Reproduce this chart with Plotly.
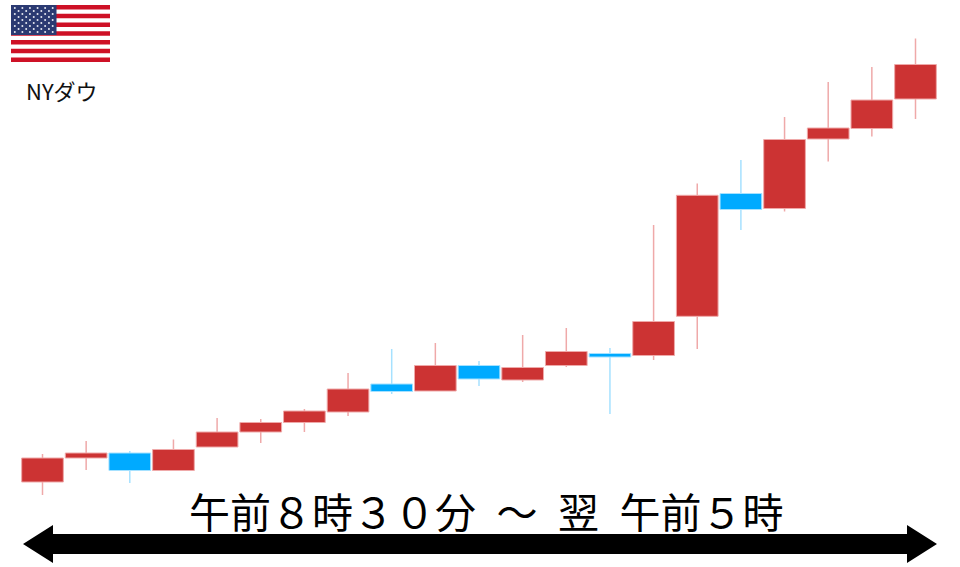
import plotly.graph_objects as go

W, H = 960, 567
# Values (index height above the chart's base line)
slots = list(range(1, 22))
open_ = [85, 109, 114, 96.5, 120, 135, 144.5, 155, 183, 176, 201.5, 187, 201.5, 213.5, 211.5, 250.7, 373.5, 358.5, 428, 438.5, 468]
close = [109, 114, 96.5, 117.5, 135, 144.5, 156, 178, 175.5, 201.5, 188, 199.5, 215.5, 210, 245.5, 371.7, 357.5, 427.5, 439, 467, 502.5]
high = [113, 126, 116, 127.5, 149, 148, 158, 194, 218, 224, 206, 232, 239, 219, 342, 383.5, 407, 450, 485, 500, 528.5]
low = [72, 97, 84, 96.5, 120, 124, 135, 151, 173, 176, 181, 185, 200, 153, 207, 218, 337, 355.5, 405.5, 430.5, 448]

RED, BLUE = "#CC3333", "#00AAFF"
RED_EDGE, BLUE_EDGE = "#EFA9A9", "#A6E1FF"

def px_x(x): return x / W
def px_y(y): return 1 - y / H

up = [c >= o for o, c in zip(open_, close)]
fig = go.Figure()

for is_up, col in ((True, RED_EDGE), (False, BLUE_EDGE)):
    xs, ys = [], []
    for i, s in enumerate(slots):
        if up[i] != is_up:
            continue
        lo_b, hi_b = min(open_[i], close[i]), max(open_[i], close[i])
        xs += [s, s, None, s, s, None]
        ys += [high[i], hi_b, None, lo_b, low[i], None]
    fig.add_trace(go.Scatter(x=xs, y=ys, mode="lines", line=dict(color=col, width=1.5),
                             hoverinfo="skip", showlegend=False))

fig.add_trace(go.Bar(
    x=slots,
    y=[abs(c - o) for o, c in zip(open_, close)],
    base=[min(o, c) for o, c in zip(open_, close)],
    width=0.955,
    marker=dict(color=[RED if u else BLUE for u in up],
                line=dict(color=[RED_EDGE if u else BLUE_EDGE for u in up], width=1)),
    hoverinfo="skip", showlegend=False,
))

shapes = []
fx0, fx1, fy0, fy1 = 11, 110, 5, 62
shapes.append(dict(type="rect", xref="paper", yref="paper", x0=px_x(fx0), x1=px_x(fx1), y0=px_y(fy1), y1=px_y(fy0), fillcolor="#FFFFFF", line_width=0))
sh = (fy1 - fy0) / 13
for i in range(0, 13, 2):
    shapes.append(dict(type="rect", xref="paper", yref="paper", x0=px_x(fx0), x1=px_x(fx1),
                       y0=px_y(fy0 + (i + 1) * sh), y1=px_y(fy0 + i * sh), fillcolor="#CE1126", line_width=0))
cx1, cy1 = 56.5, 35
shapes.append(dict(type="rect", xref="paper", yref="paper", x0=px_x(fx0), x1=px_x(cx1), y0=px_y(cy1), y1=px_y(fy0), fillcolor="#2B3A72", line_width=0))
for row in range(9):
    n = 6 if row % 2 == 0 else 5
    off = 0 if row % 2 == 0 else 1
    for c in range(n):
        sx = fx0 + (cx1 - fx0) * (1 + 2 * c + off) / 12
        sy = fy0 + (cy1 - fy0) * (1 + row) / 10
        shapes.append(dict(type="circle", xref="paper", yref="paper", x0=px_x(sx - 1), x1=px_x(sx + 1),
                           y0=px_y(sy + 1), y1=px_y(sy - 1), fillcolor="#E8EAF2", line_width=0))

arrow_pts = [(23, 544), (53, 525), (53, 534), (907, 534), (907, 525), (937, 544), (907, 563), (907, 554), (53, 554), (53, 563)]
path = "M " + " L ".join(f"{px_x(x):.5f} {px_y(y):.5f}" for x, y in arrow_pts) + " Z"
shapes.append(dict(type="path", xref="paper", yref="paper", path=path, fillcolor="#000000", line_width=0))

JP = "Noto Sans CJK JP, sans-serif"
annotations = [
    dict(text="NYダウ", x=px_x(62), y=px_y(90), xref="paper", yref="paper", showarrow=False,
         xanchor="center", yanchor="middle", font=dict(family=JP, size=22, color="#111111")),
    dict(text="午前８時３０分\u2002～\u2002翌\u2002午前５時", x=px_x(486.5), y=px_y(510), xref="paper", yref="paper", showarrow=False,
         xanchor="center", yanchor="middle", font=dict(family=JP, size=41, color="#000000")),
]

fig.update_layout(
    width=W, height=H, margin=dict(l=0, r=0, t=0, b=0), autosize=False,
    paper_bgcolor="#FFFFFF", plot_bgcolor="#FFFFFF", showlegend=False,
    shapes=shapes, annotations=annotations,
    xaxis=dict(range=[1 - 42.5 / 43.65, 1 + (W - 42.5) / 43.65], visible=False, fixedrange=True),
    yaxis=dict(range=[0, H], visible=False, fixedrange=True),
)
fig.write_html("out.html", config=dict(displayModeBar=False),
               post_script="document.body.style.margin='0';document.body.style.overflow='hidden';")
